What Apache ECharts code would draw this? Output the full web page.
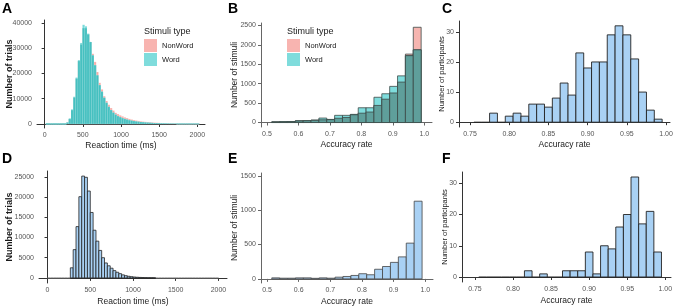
<!DOCTYPE html>
<html>
<head>
<meta charset="utf-8">
<script src="https://cdn.jsdelivr.net/npm/echarts@6/dist/echarts.min.js"></script>
<style>
  html, body { margin: 0; padding: 0; background: #fff; }
  #chart { width: 676px; height: 308px; }
</style>
</head>
<body>
<div id="chart"></div>
<script>
// A: reaction time histogram by stimuli type (bins of 30 ms from 15 ms)
const rtStartA = 15;
const rtWidthA = 30;
const rtNonWordA = [
  0, 0, 0, 0, 0, 0, 0, 0, 0, 600,
  2000, 5500, 10500, 18000, 25000, 31500, 38000, 38000, 35500, 32500,
  27800, 24600, 20600, 16300, 13700, 11000, 9100, 7600, 6300, 5300,
  4400, 3900, 3400, 3000, 2600, 2300, 2000, 1750, 1550, 1350,
  1200, 1050, 930, 830, 740, 660, 590, 530, 480, 430,
  390, 350, 320, 290, 260, 240, 220, 0, 0, 0,
  0, 0, 0, 0, 0, 0, 0
];
const rtWordA = [
  0, 0, 0, 0, 0, 0, 0, 0, 0, 600,
  2200, 5800, 10800, 18400, 25300, 32100, 39300, 38700, 35800, 32500,
  27200, 23300, 19300, 15400, 12800, 10400, 8400, 6800, 5500, 4500,
  3700, 3100, 2700, 2300, 2000, 1750, 1500, 1300, 1150, 1000,
  880, 780, 690, 610, 540, 480, 430, 390, 350, 320,
  290, 260, 240, 220, 200, 190, 180, 170, 160, 150,
  150, 140, 140, 130, 130, 120, 110
];

// B: item accuracy by stimuli type (bins of 0.025 from 0.515)
const accStartB = 0.515;
const accWidthB = 0.025;
const accNonWordB = [15, 20, 25, 40, 45, 55, 70, 75, 110, 130, 200, 240, 270, 440, 600, 760, 1040, 1760, 2450];
const accWordB = [15, 20, 25, 45, 50, 65, 115, 80, 185, 185, 210, 380, 380, 650, 740, 930, 1200, 1720, 1870];

// C: participant accuracy (bins of 0.01 from 0.755)
const partStartC = 0.755;
const partWidthC = 0.01;
const partC = [0, 0, 3, 0, 2, 3, 2, 6, 6, 5, 8, 13, 9, 23, 18, 20, 20, 29, 32, 29, 21, 10, 4, 1];

// D: reaction time histogram (bins of 2000/60 ms from 0)
const rtStartD = 0;
const rtWidthD = 2000 / 60;
const rtD = [
  0, 0, 0, 0, 0, 0, 0, 0, 2500, 7000,
  12700, 20100, 25200, 24900, 21500, 16200, 11800, 9100, 6800, 5000,
  3700, 3000, 2400, 1800, 1400, 1050, 750, 550, 400, 300,
  220, 160, 120, 90, 70, 50, 40, 30, 0, 0,
  0, 0, 0, 0, 0, 0, 0, 0, 0, 0,
  0, 0, 0, 0, 0, 0, 0, 0, 0, 0
];

// E: item accuracy
const accE = [15, 10, 10, 15, 15, 8, 15, 10, 25, 35, 50, 75, 60, 140, 180, 240, 320, 520, 1130];

// F: participant accuracy
const partF = [0, 0, 0, 0, 0, 0, 2, 0, 1, 0, 0, 2, 2, 2, 8, 1, 10, 9, 16, 20, 32, 17, 21, 8];

// tick labels
const rtTicks = [0, 500, 1000, 1500, 2000];
const accTicks = [0.5, 0.6, 0.7, 0.8, 0.9, 1.0];
const partTicks = [0.75, 0.8, 0.85, 0.9, 0.95, 1.0];
const trialsTicksA = [0, 10000, 20000, 30000, 40000];
const trialsTicksD = [0, 5000, 10000, 15000, 20000, 25000];
const stimTicksB = [0, 500, 1000, 1500, 2000, 2500];
const stimTicksE = [0, 500, 1000, 1500];
const partCountTicks = [0, 10, 20, 30];

const FONT = 'Liberation Sans, Arial, sans-serif';
const BLUE = '#a9d1f4';

const bins = (start, width, counts) => counts.map((c, i) => [start + i * width, start + (i + 1) * width, c]);
const overlap = (a, b) => a.map((v, i) => Math.min(v, b[i]));

function histRender(fill, stroke, lineWidth, zeroStroke) {
  return function (params, api) {
    const x0 = api.value(0);
    const x1 = api.value(1);
    const y = api.value(2);
    const p0 = api.coord([x0, 0]);
    const p1 = api.coord([x1, y]);
    if (y === 0) {
      // empty bins still leave their outline on the baseline
      return {
        type: 'line',
        shape: { x1: p0[0], y1: p0[1], x2: p1[0], y2: p0[1] },
        style: { stroke: zeroStroke, lineWidth: 1 }
      };
    }
    return {
      type: 'rect',
      shape: { x: p0[0], y: p1[1], width: p1[0] - p0[0], height: p0[1] - p1[1] },
      style: { fill: fill, stroke: stroke, lineWidth: lineWidth }
    };
  };
}

function hist(name, idx, data, fill, stroke, lineWidth, zeroStroke) {
  return {
    type: 'custom',
    name: name,
    xAxisIndex: idx,
    yAxisIndex: idx,
    data: data,
    encode: { x: [0, 1], y: 2 },
    itemStyle: { color: fill },
    renderItem: histRender(fill, stroke, lineWidth, zeroStroke),
    silent: true
  };
}

function xAxis(idx, min, max, ticks, name, digits, lineColor, nameGap) {
  return {
    type: 'value', gridIndex: idx, min: min, max: max,
    name: name, nameLocation: 'middle', nameGap: nameGap, nameMoveOverlap: false,
    nameTextStyle: { fontSize: 8.5, color: '#1a1a1a', fontFamily: FONT },
    axisLine: { show: true, lineStyle: { color: lineColor, width: 1 } },
    axisTick: { show: true, length: 3, customValues: ticks, lineStyle: { color: lineColor } },
    axisLabel: {
      customValues: ticks, fontSize: 7, color: '#555', margin: 4, fontFamily: FONT,
      formatter: (v) => digits ? Number(v).toFixed(digits) : String(v)
    },
    splitLine: { show: false }
  };
}

function yAxis(idx, min, max, ticks, name, lineColor, nameGap, nameSize, bold) {
  return {
    type: 'value', gridIndex: idx, min: min, max: max,
    name: name, nameLocation: 'middle', nameGap: nameGap, nameMoveOverlap: false,
    nameTextStyle: { fontSize: nameSize, color: '#1a1a1a', fontFamily: FONT, fontWeight: bold ? 'bold' : 'normal' },
    axisLine: { show: true, lineStyle: { color: lineColor, width: 1 } },
    axisTick: { show: true, length: 3, customValues: ticks, lineStyle: { color: lineColor } },
    axisLabel: { customValues: ticks, fontSize: 7, color: '#555', margin: 5, fontFamily: FONT, formatter: (v) => String(v) },
    splitLine: { show: false }
  };
}

const letter = (t, x, y) => ({
  type: 'text', left: x, top: y,
  style: { text: t, font: 'bold 14px ' + FONT, fill: '#000' }
});
const legendTitle = (x, y) => ({
  type: 'text', left: x, top: y,
  style: { text: 'Stimuli type', font: '9px ' + FONT, fill: '#1a1a1a' }
});

const legendBase = {
  orient: 'vertical', itemWidth: 13, itemHeight: 13, itemGap: 1, padding: 0,
  icon: 'rect', selectedMode: false,
  textStyle: { fontSize: 7.5, color: '#1a1a1a', fontFamily: FONT },
  data: [
    { name: 'NonWord', itemStyle: { color: '#f8b4b0' } },
    { name: 'Word', itemStyle: { color: '#7fdcdc' } }
  ]
};

const chart = echarts.init(document.getElementById('chart'));
chart.setOption({
  animation: false,
  backgroundColor: '#fff',
  grid: [
    { left: 37, top: 20, width: 168, height: 108 },
    { left: 261, top: 23, width: 171, height: 104 },
    { left: 459, top: 21, width: 211, height: 106 },
    { left: 39, top: 171, width: 188, height: 112 },
    { left: 261, top: 173, width: 172, height: 110 },
    { left: 462, top: 172, width: 209, height: 110 }
  ],
  xAxis: [
    xAxis(0, -100, 2100, rtTicks, 'Reaction time (ms)', 0, '#333', 13),
    xAxis(1, 0.481, 1.0245, accTicks, 'Accuracy rate', 1, '#666', 13),
    xAxis(2, 0.736, 1.005, partTicks, 'Accuracy rate', 2, '#333', 13),
    xAxis(3, -100, 2100, rtTicks, 'Reaction time (ms)', 0, '#333', 14),
    xAxis(4, 0.481, 1.0245, accTicks, 'Accuracy rate', 1, '#666', 14),
    xAxis(5, 0.733, 1.0075, partTicks, 'Accuracy rate', 2, '#333', 14)
  ],
  yAxis: [
    yAxis(0, -1600, 41200, trialsTicksA, 'Number of trials', '#333', 22.5, 9, true),
    yAxis(1, -115, 2560, stimTicksB, 'Number of stimuli', '#666', 21.5, 8.5, false),
    yAxis(2, -1.6, 33.6, partCountTicks, 'Number of participants', '#333', 13.5, 7.5, false),
    yAxis(3, -1260, 26460, trialsTicksD, 'Number of trials', '#333', 25, 9, true),
    yAxis(4, -60, 1540, stimTicksE, 'Number of stimuli', '#666', 21.5, 8.5, false),
    yAxis(5, -1.6, 33.6, partCountTicks, 'Number of participants', '#333', 13, 7.5, false)
  ],
  legend: [
    Object.assign({ left: 144, top: 39 }, legendBase),
    Object.assign({ left: 287, top: 39 }, legendBase)
  ],
  graphic: [
    letter('A', 2, 2), letter('B', 228, 2), letter('C', 442, 2),
    letter('D', 2, 152), letter('E', 228, 152), letter('F', 442, 152),
    legendTitle(144, 27), legendTitle(287, 27)
  ],
  series: [
    hist('NonWord', 0, bins(rtStartA, rtWidthA, rtNonWordA), '#f8aaa5', 'rgba(255,255,255,0.25)', 0.5, '#f8aaa5'),
    hist('Word', 0, bins(rtStartA, rtWidthA, rtWordA), '#74dada', 'rgba(255,255,255,0.25)', 0.5, '#5fd0d0'),
    hist('both', 0, bins(rtStartA, rtWidthA, overlap(rtNonWordA, rtWordA)), '#45c0c0', 'rgba(255,255,255,0.25)', 0.5, '#5fd0d0'),

    hist('NonWord', 1, bins(accStartB, accWidthB, accNonWordB), '#f6b5b0', '#3d4a48', 0.8, '#3d4a48'),
    hist('Word', 1, bins(accStartB, accWidthB, accWordB), '#7fdcdc', '#3d4a48', 0.8, '#3d4a48'),
    hist('both', 1, bins(accStartB, accWidthB, overlap(accNonWordB, accWordB)), '#5f9f9b', '#3d4a48', 0.8, '#3d4a48'),

    hist('C', 2, bins(partStartC, partWidthC, partC), BLUE, '#222', 0.9, '#222'),
    hist('D', 3, bins(rtStartD, rtWidthD, rtD), BLUE, '#222', 0.8, '#888'),
    hist('E', 4, bins(accStartB, accWidthB, accE), BLUE, '#444', 0.8, '#444'),
    hist('F', 5, bins(partStartC, partWidthC, partF), BLUE, '#222', 0.9, '#222')
  ]
});
</script>
</body>
</html>
